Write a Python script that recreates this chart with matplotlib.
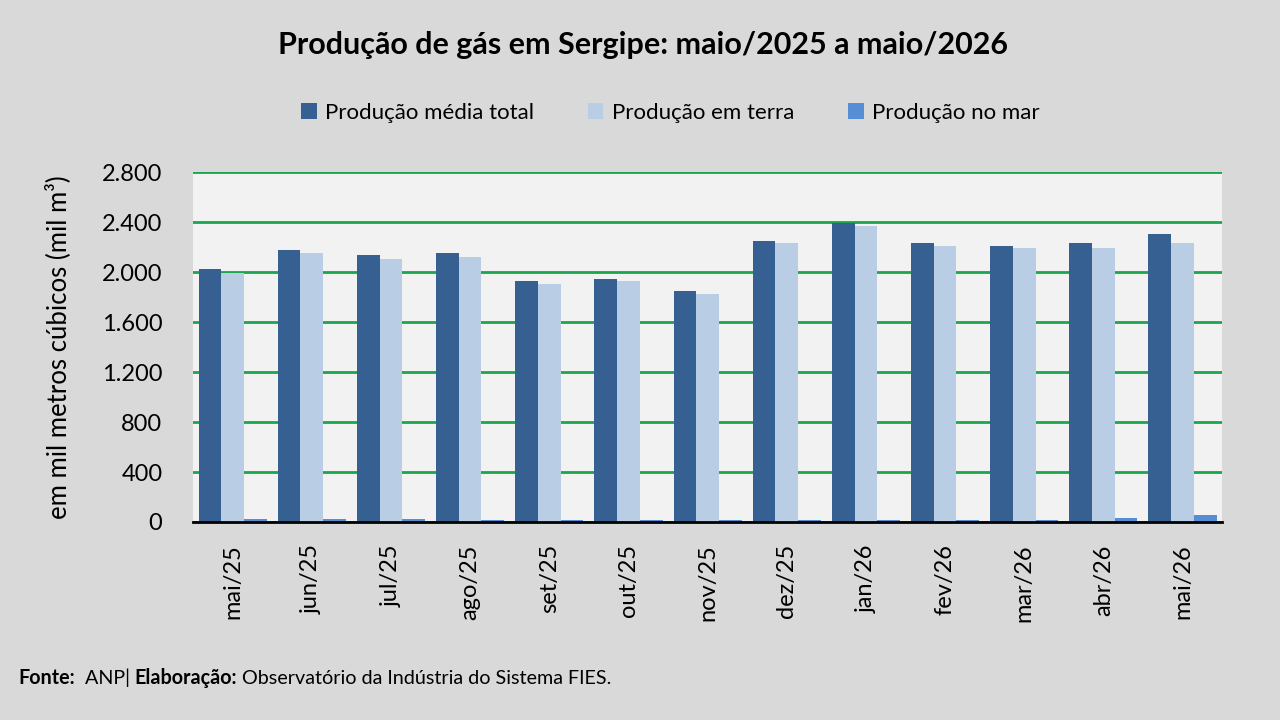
import numpy as np
import matplotlib.pyplot as plt
from matplotlib.ticker import FuncFormatter

plt.rcParams['font.family'] = ['Lato', 'DejaVu Sans']

meses = ['mai/25', 'jun/25', 'jul/25', 'ago/25', 'set/25', 'out/25', 'nov/25',
         'dez/25', 'jan/26', 'fev/26', 'mar/26', 'abr/26', 'mai/26']
total = [2027, 2179, 2139, 2149, 1928, 1947, 1845, 2251, 2395, 2229, 2211, 2229, 2301]
terra = [1990, 2152, 2107, 2117, 1907, 1928, 1824, 2232, 2371, 2211, 2189, 2189, 2232]
mar = [24, 24, 24, 16, 16, 16, 16, 16, 16, 16, 16, 35, 53]

series = [
    ('Produção média total', total, '#366092'),
    ('Produção em terra', terra, '#b9cde5'),
    ('Produção no mar', mar, '#558ed5'),
]

fig = plt.figure(figsize=(12.8, 7.2), dpi=100, facecolor='#d9d9d9')
ax = fig.add_axes([0.1508, 0.275, 0.804, 0.486])
ax.set_facecolor('#f2f2f2')

x = np.arange(len(meses))
w = 0.287
for i, (nome, vals, cor) in enumerate(series):
    ax.bar(x + (i - 1) * w, vals, width=w, color=cor, label=nome, zorder=3)

ax.set_xlim(-0.5, len(meses) - 0.5)
ax.set_ylim(0, 2800)
ax.set_yticks(np.arange(0, 2801, 400))
ax.yaxis.set_major_formatter(FuncFormatter(lambda v, p: f'{v:,.0f}'.replace(',', '.')))
ax.grid(axis='y', color='#1aa64a', linewidth=2, zorder=0)
ax.set_axisbelow(True)

for s in ['top', 'right', 'left']:
    ax.spines[s].set_visible(False)
ax.spines['bottom'].set_color('black')
ax.spines['bottom'].set_linewidth(2)
ax.spines['bottom'].set_zorder(4)

ax.set_xticks(x)
ax.set_xticklabels(meses, rotation=90, fontsize=17)
ax.tick_params(axis='both', length=0)
ax.tick_params(axis='x', pad=16)
ax.tick_params(axis='y', labelsize=17, pad=22)
ax.set_ylabel('em mil metros cúbicos (mil m³)', fontsize=18.5, labelpad=22)

fig.text(0.502, 0.938, 'Produção de gás em Sergipe: maio/2025 a maio/2026',
         ha='center', va='center', fontsize=22, fontweight='bold')

ax.legend(loc='center', bbox_to_anchor=(0.464, 1.17), ncol=3, frameon=False,
          fontsize=16, handlelength=0.7, handleheight=0.7, handletextpad=0.4,
          columnspacing=2.4)

# rodape com partes em negrito
partes = [('Fonte:', 'bold'), ('  ANP| ', 'normal'), ('Elaboração:', 'bold'),
          (' Observatório da Indústria do Sistema FIES.', 'normal')]
r = fig.canvas.get_renderer()
xpos = 0.014
for txt, peso in partes:
    t = fig.text(xpos, 0.05, txt, fontsize=14.2, fontweight=peso, ha='left', va='baseline')
    xpos = fig.transFigure.inverted().transform((t.get_window_extent(r).x1, 0))[0]

fig.savefig('out.png', dpi=100, facecolor=fig.get_facecolor())
